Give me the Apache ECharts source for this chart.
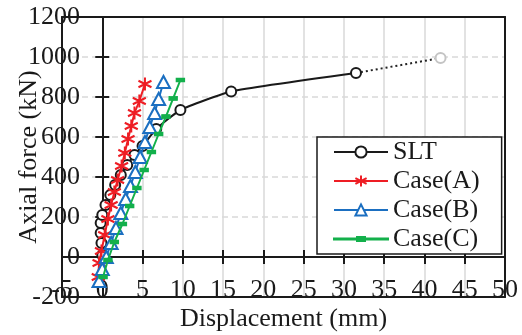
<!DOCTYPE html>
<html>
<head>
<meta charset="utf-8">
<script src="https://cdn.jsdelivr.net/npm/echarts@6/dist/echarts.min.js"></script>
<style>
  html, body { margin: 0; padding: 0; background: #fff; }
  #chart { width: 522px; height: 335px; }
</style>
</head>
<body>
<div id="chart"></div>
<script>
// 数据
const sltX = [0.0, -0.1, -0.2, -0.2, 0.0, 0.4, 1.0, 1.6, 2.3, 3.1, 4.0, 5.0, 6.7, 9.7, 16.0, 31.5];
const sltY = [10, 70, 120, 170, 210, 260, 310, 360, 410, 460, 510, 555, 640, 735, 828, 920];
const sltExtX = [31.5, 42.0];
const sltExtY = [920, 995];

const caseAX = [-0.5, -0.4, -0.1, 0.3, 0.7, 1.1, 1.5, 1.9, 2.4, 2.8, 3.2, 3.6, 4.0, 4.6, 5.3];
const caseAY = [-100, -30, 30, 110, 190, 260, 325, 385, 455, 520, 590, 655, 720, 780, 865];

const caseBX = [-0.4, 0.0, 0.5, 1.1, 1.7, 2.3, 2.9, 3.5, 4.1, 4.7, 5.3, 5.9, 6.5, 7.0, 7.6];
const caseBY = [-120, -60, 0, 70, 145, 220, 290, 355, 425, 500, 575, 650, 720, 790, 875];

const caseCX = [0.1, 0.7, 1.5, 2.5, 3.4, 4.3, 5.2, 6.1, 7.0, 7.9, 8.8, 9.7];
const caseCY = [-100, -15, 75, 165, 255, 345, 435, 525, 615, 702, 793, 885];

const seriesNames = ['SLT', 'Case(A)', 'Case(B)', 'Case(C)'];

const FONT = "'Liberation Serif', 'Times New Roman', serif";
const TXT = '#1a1a1a';
const RED = '#ee1d24';
const BLUE = '#1b6fc1';
const GREEN = '#13b04b';
const zip = (xs, ys) => xs.map((x, i) => [x, ys[i]]);
const plain = v => String(v);

const xRange = { type: 'value', min: -5, max: 50, interval: 5 };
const yRange = { type: 'value', min: -200, max: 1200, interval: 200 };

// 星号标记
const asterisk = 'path://M0,-10L0,10M-8.66,-5L8.66,5M-8.66,5L8.66,-5';
// 图例里 Case(C) 的短横标记 (线 + 小矩形)
const dashIcon = 'path://M0,1.5H54V2.5H0Z M23,0H31V4H23Z';

const myChart = echarts.init(document.getElementById('chart'));
myChart.setOption({
  animation: false,
  textStyle: { fontFamily: FONT, color: TXT },
  grid: { left: 62, right: 17, top: 17, bottom: 38, outerBoundsMode: 'none' },
  legend: {
    data: [
      { name: seriesNames[0] },
      { name: seriesNames[1] },
      { name: seriesNames[2] },
      { name: seriesNames[3], icon: dashIcon }
    ],
    orient: 'vertical',
    left: 317,
    top: 137,
    padding: [2, 22, 2, 16],
    itemGap: 3,
    itemWidth: 54,
    itemHeight: 14,
    symbolKeepAspect: true,
    backgroundColor: '#fff',
    borderColor: TXT,
    borderWidth: 1.5,
    borderRadius: 0,
    textStyle: { fontFamily: FONT, fontSize: 26, color: TXT, padding: [0, 0, 0, 0] }
  },
  xAxis: [
    // 下框 + 标签
    Object.assign({}, xRange, {
      position: 'bottom',
      name: 'Displacement (mm)',
      nameLocation: 'middle',
      nameGap: 9,
      nameMoveOverlap: false,
      nameTextStyle: { fontFamily: FONT, fontSize: 26, color: TXT },
      axisLine: { onZero: false, lineStyle: { color: TXT, width: 2 } },
      axisTick: { show: false },
      axisLabel: { margin: -20, formatter: plain, fontFamily: FONT, fontSize: 26, color: TXT, hideOverlap: false, showMinLabel: true, showMaxLabel: true },
      splitLine: { show: true, lineStyle: { color: '#d9d9d9', width: 1.5 } }
    }),
    // 上框
    Object.assign({}, xRange, {
      position: 'top',
      axisLine: { onZero: false, lineStyle: { color: TXT, width: 2 } },
      axisTick: { show: false },
      axisLabel: { show: false },
      splitLine: { show: false }
    }),
    // y=0 轴线 (向下刻度)
    Object.assign({}, xRange, {
      position: 'bottom',
      axisLine: { onZero: true, onZeroAxisIndex: 0, lineStyle: { color: TXT, width: 2 } },
      axisTick: { show: true, inside: false, length: 7, lineStyle: { color: TXT, width: 2 } },
      axisLabel: { show: false },
      splitLine: { show: false }
    }),
    // y=0 轴线 (向上刻度)
    Object.assign({}, xRange, {
      position: 'top',
      axisLine: { onZero: true, onZeroAxisIndex: 0, lineStyle: { color: TXT, width: 2 } },
      axisTick: { show: true, inside: false, length: 7, lineStyle: { color: TXT, width: 2 } },
      axisLabel: { show: false },
      splitLine: { show: false }
    })
  ],
  yAxis: [
    Object.assign({}, yRange, {
      position: 'left',
      name: 'Axial force (kN)',
      nameLocation: 'middle',
      nameGap: 20,
      nameMoveOverlap: false,
      nameTextStyle: { fontFamily: FONT, fontSize: 26, color: TXT },
      axisLine: { onZero: false, lineStyle: { color: TXT, width: 2 } },
      axisTick: { show: false },
      axisLabel: { margin: -18, formatter: plain, fontFamily: FONT, fontSize: 26, color: TXT, hideOverlap: false, showMinLabel: true, showMaxLabel: true },
      splitLine: { show: true, lineStyle: { color: '#d9d9d9', width: 1.5, type: [6, 4] } }
    }),
    Object.assign({}, yRange, {
      position: 'right',
      axisLine: { onZero: false, lineStyle: { color: TXT, width: 2 } },
      axisTick: { show: false },
      axisLabel: { show: false },
      splitLine: { show: false }
    }),
    Object.assign({}, yRange, {
      position: 'left',
      axisLine: { onZero: true, onZeroAxisIndex: 0, lineStyle: { color: TXT, width: 2 } },
      axisTick: { show: true, inside: false, length: 7, lineStyle: { color: TXT, width: 2 } },
      axisLabel: { show: false },
      splitLine: { show: false }
    }),
    Object.assign({}, yRange, {
      position: 'right',
      axisLine: { onZero: true, onZeroAxisIndex: 0, lineStyle: { color: TXT, width: 2 } },
      axisTick: { show: true, inside: false, length: 7, lineStyle: { color: TXT, width: 2 } },
      axisLabel: { show: false },
      splitLine: { show: false }
    })
  ],
  series: [
    {
      name: 'SLT-ext',
      type: 'line',
      data: [{ value: [sltExtX[0], sltExtY[0]], symbol: 'none' }, [sltExtX[1], sltExtY[1]]],
      symbol: 'circle',
      symbolSize: 10,
      itemStyle: { color: '#fff', borderColor: '#c4c4c4', borderWidth: 2 },
      lineStyle: { color: '#222', width: 2, type: [2, 3] },
      z: 2
    },
    {
      name: seriesNames[0],
      type: 'line',
      data: zip(sltX, sltY),
      smooth: 0.15,
      symbol: 'circle',
      symbolSize: 10,
      itemStyle: { color: '#fff', borderColor: TXT, borderWidth: 2 },
      lineStyle: { color: TXT, width: 2 },
      z: 3
    },
    {
      name: seriesNames[1],
      type: 'line',
      data: zip(caseAX, caseAY),
      symbol: asterisk,
      symbolSize: 13,
      itemStyle: { color: RED, borderColor: RED, borderWidth: 2 },
      lineStyle: { color: RED, width: 2 },
      z: 4
    },
    {
      name: seriesNames[2],
      type: 'line',
      data: zip(caseBX, caseBY),
      symbol: 'triangle',
      symbolSize: [13, 12],
      itemStyle: { color: '#fff', borderColor: BLUE, borderWidth: 2 },
      lineStyle: { color: BLUE, width: 2 },
      z: 5
    },
    {
      name: seriesNames[3],
      type: 'line',
      data: zip(caseCX, caseCY),
      symbol: 'rect',
      symbolSize: [8, 4],
      itemStyle: { color: GREEN, borderColor: GREEN, borderWidth: 1 },
      lineStyle: { color: GREEN, width: 2 },
      z: 6
    }
  ]
});
window.addEventListener('resize', () => myChart.resize());
</script>
</body>
</html>
